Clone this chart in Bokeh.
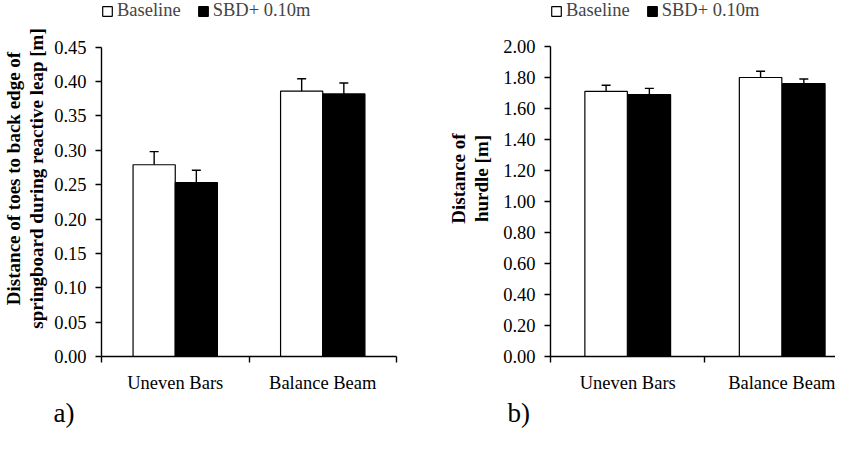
import numpy as np
from bokeh.plotting import figure
from bokeh.models import (ColumnDataSource, FixedTicker, NumeralTickFormatter, Whisker,
                          TeeHead, Legend, LegendItem, Title)
from bokeh.layouts import row
from bokeh.embed import file_html
from bokeh.resources import INLINE

categories = ["Uneven Bars", "Balance Beam"]
series_names = ["Baseline", "SBD+ 0.10m"]
panel_tags = ["a)", "b)"]

toes_baseline = [0.279, 0.386]
toes_baseline_err = [0.019, 0.018]
toes_sbd = [0.253, 0.382]
toes_sbd_err = [0.018, 0.016]

hurdle_baseline = [1.71, 1.80]
hurdle_baseline_err = [0.04, 0.04]
hurdle_sbd = [1.69, 1.76]
hurdle_sbd_err = [0.04, 0.03]

toes_ticks = [0.00, 0.05, 0.10, 0.15, 0.20, 0.25, 0.30, 0.35, 0.40, 0.45]
hurdle_ticks = [0.00, 0.20, 0.40, 0.60, 0.80, 1.00, 1.20, 1.40, 1.60, 1.80, 2.00]

FONT = "Liberation Serif"


def make_panel(width, height, mb_left, mb_right, mb_bottom, axis_px, x_end, ticks,
               ylabel, base_vals, base_err, sbd_vals, sbd_err, bar_w, off,
               tag, tag_offset, ylabel_standoff):
    frame_h = height - mb_bottom
    y_end = ticks[-1] * frame_h / axis_px
    p = figure(width=width, height=height, x_range=(0, x_end), y_range=(0, y_end),
               output_backend="svg", toolbar_location=None,
               min_border_left=mb_left, min_border_right=mb_right,
               min_border_top=0, min_border_bottom=mb_bottom)
    p.styles = {"flex-shrink": "0", "flex-grow": "0"}
    p.outline_line_color = None
    p.xgrid.visible = False
    p.ygrid.visible = False
    p.background_fill_color = "white"
    p.border_fill_color = "white"

    centers = np.arange(len(categories)) + 0.5
    xb = centers - off
    xs = centers + off
    src_b = ColumnDataSource(dict(x=xb, top=base_vals,
                                  upper=np.array(base_vals) + np.array(base_err)))
    src_s = ColumnDataSource(dict(x=xs, top=sbd_vals,
                                  upper=np.array(sbd_vals) + np.array(sbd_err)))

    rb = p.vbar(x="x", top="top", width=bar_w, source=src_b, fill_color="white",
                line_color="black", line_width=1.2)
    rs = p.vbar(x="x", top="top", width=bar_w, source=src_s, fill_color="black",
                line_color="black", line_width=1.2)

    for src in (src_b, src_s):
        w = Whisker(base="x", lower="top", upper="upper", source=src,
                    dimension="height", lower_head=None,
                    upper_head=TeeHead(size=9, line_width=1.4, line_color="black"),
                    line_width=1.4, line_color="black", level="glyph")
        p.add_layout(w)

    ya = p.yaxis[0]
    ya.bounds = (ticks[0], ticks[-1])
    ya.ticker = FixedTicker(ticks=ticks)
    ya.formatter = NumeralTickFormatter(format="0.00")
    ya.major_tick_out = 6
    ya.major_tick_in = 0
    ya.minor_tick_line_color = None
    ya.axis_line_width = 1.4
    ya.major_tick_line_width = 1.4
    ya.major_label_text_font = FONT
    ya.major_label_text_font_size = "18.5px"
    ya.major_label_text_color = "black"
    ya.major_label_standoff = 9
    ya.axis_label = ylabel
    ya.axis_label_text_font = FONT
    ya.axis_label_text_font_style = "bold"
    ya.axis_label_text_font_size = "19px"
    ya.axis_label_text_line_height = 1.1
    ya.axis_label_text_color = "black"
    ya.axis_label_standoff = ylabel_standoff

    xa = p.xaxis[0]
    xa.ticker = FixedTicker(ticks=list(centers), minor_ticks=list(np.arange(len(categories) + 1)))
    xa.major_label_overrides = {float(c): name for c, name in zip(centers, categories)}
    xa.major_tick_out = 0
    xa.major_tick_in = 0
    xa.minor_tick_out = 6
    xa.minor_tick_in = 0
    xa.minor_tick_line_width = 1.4
    xa.axis_line_width = 1.4
    xa.major_label_text_font = FONT
    xa.major_label_text_font_size = "18.5px"
    xa.major_label_text_color = "black"
    xa.major_label_standoff = 10

    legend = Legend(items=[LegendItem(label=series_names[0], renderers=[rb]),
                           LegendItem(label=series_names[1], renderers=[rs])],
                    orientation="horizontal", location="top_left",
                    label_text_font=FONT, label_text_font_size="18.5px",
                    glyph_width=12, glyph_height=12, label_standoff=4, spacing=16,
                    padding=2, margin=0, border_line_color=None,
                    background_fill_alpha=0, label_height=20)
    p.add_layout(legend)

    p.add_layout(Title(text=tag, align="left", offset=tag_offset, text_font=FONT,
                       text_font_size="27px", text_font_style="normal",
                       text_color="black", standoff=0), "below")
    return p


H = 436
p1 = make_panel(422, H, 95, 26, 80, 309.3, 2.0, toes_ticks,
                "Distance of toes to back edge of\nspringboard during reactive leap [m]",
                toes_baseline, toes_baseline_err, toes_sbd, toes_sbd_err,
                0.286, 0.143, panel_tags[0], -48, 4)

p2 = make_panel(413, H, 128, 0, 80, 310.0, 1.845, hurdle_ticks,
                "Distance of\nhurdle [m]",
                hurdle_baseline, hurdle_baseline_err, hurdle_sbd, hurdle_sbd_err,
                0.275, 0.14, panel_tags[1], -43, 8)

layout = row(p1, p2, spacing=0)
open("out.html", "w").write(file_html(layout, INLINE))
